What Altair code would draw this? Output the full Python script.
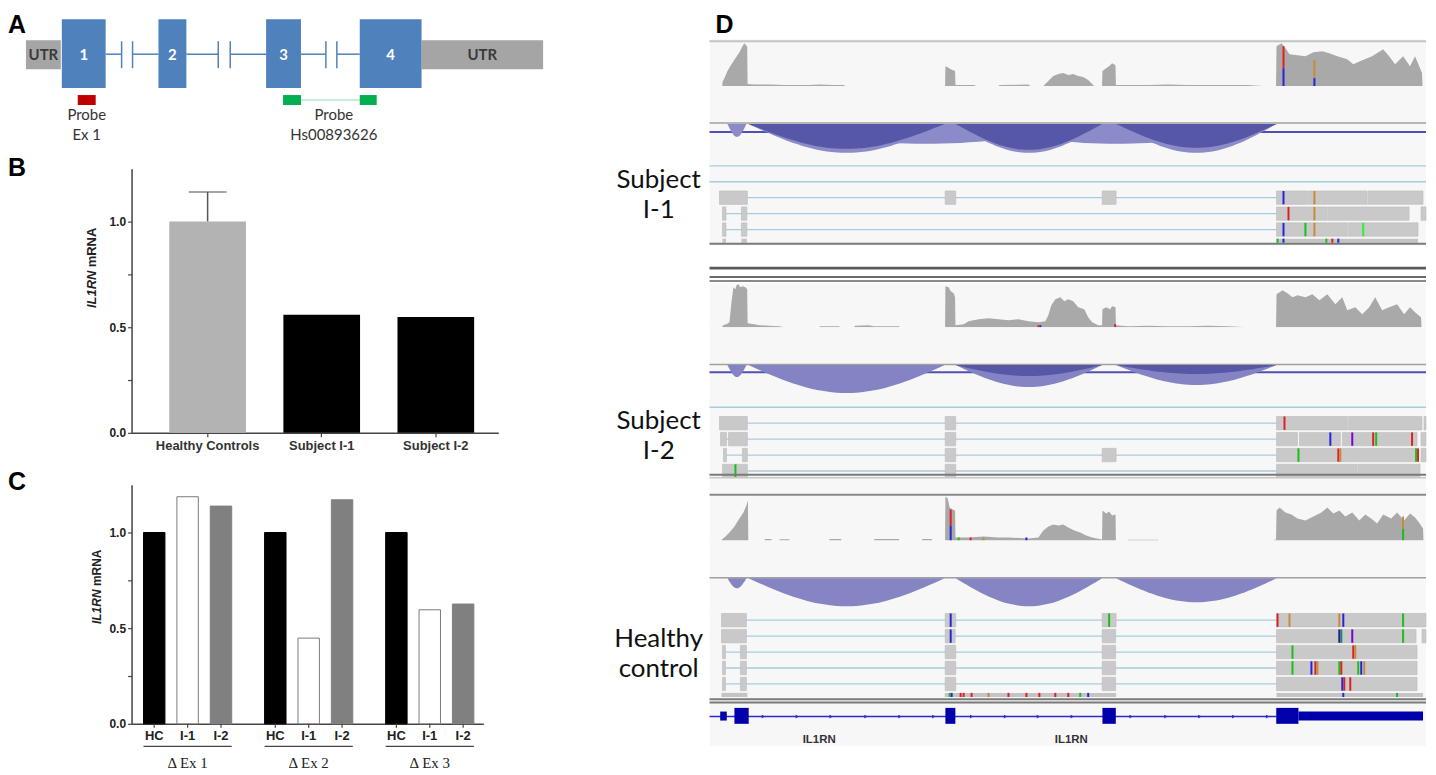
import math
import altair as alt
import pandas as pd

SANS = "Liberation Sans"
HUM = "Lato"

# ---------------- Panel A : IL1RN gene schematic (schematic units) ----------------
A_BOX_LABEL = ["UTR", "1", "2", "3", "4", "UTR"]
A_BOX_START = [1, 37, 134, 242, 336, 398]
A_BOX_END = [36, 81, 162, 277, 398, 520]
A_BOX_KIND = ["utr", "exon", "exon", "exon", "exon", "utr"]
A_INTRON_START = [81, 108, 162, 206, 277, 313]
A_INTRON_END = [97, 134, 194, 242, 302, 336]
A_BREAKS = [97, 108, 194, 206, 302, 313]
A_PROBE_START = [53, 259, 336]
A_PROBE_END = [71, 277, 353]
A_PROBE_COLOR = ["#c00000", "#00b050", "#00b050"]
A_LINK = [277, 336]
A_PROBE_TEXT_X = [62, 310]
A_PROBE_LINE1 = ["Probe", "Probe"]
A_PROBE_LINE2 = ["Ex 1", "Hs00893626"]

# ---------------- Panel B ----------------
B_GROUPS = ["Healthy Controls", "Subject I-1", "Subject I-2"]
B_VALUES = [1.0, 0.559, 0.548]
B_COLORS = ["#b3b3b3", "#000000", "#000000"]
B_HC_UPPER = 1.14

# ---------------- Panel C ----------------
C_GROUPS = ["\u0394 Ex 1", "\u0394 Ex 2", "\u0394 Ex 3"]
C_SAMPLES = ["HC", "I-1", "I-2"]
C_EX1 = [1.0, 1.187, 1.138]
C_EX2 = [1.0, 0.448, 1.171]
C_EX3 = [1.0, 0.596, 0.626]
C_FILL = ["#000000", "#ffffff", "#808080"]
C_STROKE = ["#000000", "#7a7a7a", "#808080"]

# ---------------- Panel D : IGV view (positions in 25-bp bins) ----------------
COV_I1 = [(12.9, 0), (13, 4), (15, 8), (18, 15), (22, 22), (26, 28), (30, 34), (33, 40), (35, 43), (36.5, 41),
          (37.8, 40), (38.2, 2), (45, 1.5), (60, 1.5), (75, 1), (90, 1), (100, 1), (110, 1.5), (125, 1), (135, 1), (136, 0),
          (236.4, 0), (236.7, 20), (239, 19), (242, 17), (246.4, 15), (246.8, 1), (255, 1), (265, 1), (268, 0),
          (290, 0), (291, 1), (320, 1.5), (322, 0),
          (335, 0), (340, 5), (345, 10), (350, 12), (355, 13), (360, 11), (365, 12), (370, 10), (375, 9), (380, 6), (384, 2), (386, 0),
          (393.9, 0), (394.3, 15), (398, 18), (401, 20), (404, 23), (407.4, 21), (407.8, 1), (420, 1), (440, 1), (460, 1.5),
          (480, 1), (500, 1), (520, 1), (540, 1), (555, 0),
          (568.5, 0), (569, 40), (574, 43), (578, 38), (582, 32), (590, 31), (598, 30), (606, 34), (615, 35), (622, 33),
          (630, 30), (640, 27), (646, 22), (655, 26), (665, 30), (676, 37), (682, 30), (688, 22), (696, 30), (703, 20),
          (708, 30), (715, 13), (715.5, 0)]
COV_I2 = [(12.9, 0), (13.5, 2), (17, 3), (20, 5), (22, 25), (24, 40), (26, 38), (27, 42), (29, 43), (31, 40), (33, 41),
          (36, 40), (37.8, 38), (38.2, 4), (45, 3), (50, 2), (60, 1.5), (70, 1), (75, 0),
          (110, 0), (111, 1), (130, 1), (131, 0), (145, 0), (146, 1.5), (160, 2), (165, 1), (190, 1), (191, 0),
          (236.4, 0), (236.7, 41), (240, 40), (242, 36), (245, 34), (246.4, 30), (246.8, 2), (255, 3), (260, 6), (270, 8),
          (280, 9), (290, 8), (300, 7), (310, 8), (320, 6), (330, 5), (337, 6), (340, 12), (343, 22), (347, 28), (352, 30),
          (356, 26), (360, 28), (365, 26), (370, 20), (376, 18), (380, 10), (384, 5), (390, 2), (393.9, 2),
          (394.3, 18), (398, 20), (402, 18), (404, 21), (407.4, 20), (407.8, 2), (420, 1), (440, 1.5), (460, 1), (480, 1),
          (500, 1.5), (520, 1), (540, 0),
          (568.5, 0), (569, 33), (575, 37), (580, 34), (585, 30), (590, 32), (598, 30), (605, 33), (612, 27), (620, 33),
          (628, 23), (635, 30), (640, 17), (648, 20), (655, 13), (662, 20), (668, 30), (675, 17), (682, 20), (690, 23),
          (697, 13), (703, 20), (708, 15), (714, 10), (714.5, 0)]
COV_HC = [(11.9, 0), (12.5, 1), (16, 4), (20, 8), (25, 14), (30, 22), (34, 28), (37, 35), (38.5, 40), (38.9, 0),
          (55, 0), (55.5, 1.5), (62, 1.5), (62.5, 0), (70, 0), (70.5, 1.2), (80, 1.2), (80.5, 0), (120, 0), (120.5, 1.5),
          (132, 1.5), (132.5, 0), (165, 0), (165.5, 1.5), (190, 1.5), (190.5, 0), (213, 0), (213.5, 1.5), (223, 1.5), (223.5, 0),
          (236.4, 0), (236.7, 44), (239, 42), (241, 33), (244, 31), (246.4, 30), (246.8, 3), (260, 3), (275, 4), (290, 3),
          (300, 3), (320, 2), (330, 3), (335, 10), (340, 14), (345, 16), (350, 15), (355, 16), (360, 13), (366, 10),
          (372, 8), (378, 5), (384, 3), (393.9, 1),
          (394.3, 30), (398, 27), (401, 29), (404, 25), (407.4, 26), (407.8, 0), (420, 0), (420.5, 0.8), (450, 0.8), (450.5, 0),
          (565, 0), (568.5, 1), (569, 30), (572, 33), (578, 28), (584, 26), (590, 22), (598, 20), (606, 24), (614, 28),
          (620, 33), (626, 27), (632, 30), (638, 24), (645, 28), (652, 20), (658, 26), (664, 22), (670, 17), (676, 26),
          (684, 22), (690, 28), (697, 20), (703, 27), (708, 23), (712, 18), (716, 12), (716.5, 0)]
# coverage mismatch bars: (bin, low, high, colour code)
COVMM_I1 = [(576, 0, 18, "b"), (576, 18, 40, "r"), (607, 0, 8, "b"), (607, 8, 26, "o")]
COVMM_I2 = [(330, 0, 2, "r"), (332, 0, 2, "b"), (407, 0, 3, "r")]
COVMM_HC = [(242, 0, 15, "b"), (242, 15, 31, "r"), (250, 0, 3, "g"), (262, 0, 3, "r"), (275, 0, 3, "o"),
            (318, 0, 3, "b"), (696, 0, 12, "g"), (696, 12, 24, "o")]

# splice junctions: (start bin, end bin, junction depth, shade)
SJ_I1 = [(18, 37, 13, "light"), (39, 394, 20, "light"), (247, 569, 20, "light"),
         (39, 236, 29, "light"), (247, 394, 29, "light"), (408, 569, 29, "light"),
         (39, 236, 25, "dark"), (247, 394, 26, "dark"), (408, 569, 24, "dark")]
SJ_I2 = [(18, 37, 12, "light"), (39, 236, 28, "light"), (247, 394, 22, "light"), (408, 569, 20, "light"),
         (247, 394, 11, "dark"), (408, 569, 9, "dark")]
SJ_HC = [(18, 37, 10, "light"), (39, 236, 28, "light"), (247, 394, 28, "light"), (408, 569, 24, "light")]

# reads: connecting lines (row, start, end), aligned blocks (row, start, end), mismatches (row, bin, colour)
LINES_I1 = [(0, 0, 719), (1, 0, 719), (2, 38, 569), (3, 16, 569), (4, 16, 569)]
BLOCKS_I1 = [(2, 10, 38), (2, 236.5, 247), (2, 394, 408), (2, 569, 600), (2, 601, 660), (2, 661, 716),
             (3, 13, 16.5), (3, 32, 37.5), (3, 569, 620), (3, 621, 702), (3, 714, 719),
             (4, 13, 16.5), (4, 32, 37.5), (4, 569, 640), (4, 641, 711)]
MM_I1 = [(2, 576, "b"), (2, 607, "o"), (3, 581, "r"), (3, 607, "o"), (4, 576, "b"), (4, 598, "g"), (4, 607, "o"), (4, 656, "lg")]
THIN_I1 = [(4.7, 13, 16.5), (4.7, 32, 37.5), (4.7, 569, 711)]
THINMM_I1 = [(4.7, 570, "g"), (4.7, 576, "b"), (4.7, 619, "g"), (4.7, 625, "r"), (4.7, 631, "b")]

LINES_I2 = [(0, 0, 719), (1, 38, 569), (2, 17, 569), (3, 17, 569), (4, 38, 569)]
BLOCKS_I2 = [(1, 10, 38), (1, 236.5, 247), (1, 569, 640), (1, 641, 715), (1, 717, 719),
             (2, 11, 17), (2, 19, 38), (2, 236.5, 247), (2, 569, 590), (2, 592, 633), (2, 635, 710), (2, 714, 719),
             (3, 14, 17), (3, 33, 38), (3, 236.5, 247), (3, 394, 408), (3, 569, 630), (3, 632, 710), (3, 714, 719),
             (4, 13, 38), (4, 236.5, 247), (4, 569, 650), (4, 651, 713)]
MM_I2 = [(1, 577, "r"), (2, 623, "b"), (2, 645, "p"), (2, 666, "r"), (2, 669, "g"), (2, 705, "r"),
         (3, 591, "g"), (3, 631, "r"), (3, 633, "o"), (3, 709, "g"), (3, 711, "r"), (4, 26, "g")]

LINES_HC = [(0, 37, 569), (1, 37, 569), (2, 16, 569), (3, 16, 569), (4, 16, 569)]
BLOCKS_HC = [(0, 12, 37), (0, 236.5, 247), (0, 394, 408), (0, 569, 719),
             (1, 12, 37), (1, 236.5, 246.5), (1, 394, 407.5), (1, 569, 709), (1, 715, 719),
             (2, 13, 16), (2, 31, 37), (2, 236.5, 247), (2, 394, 407.5), (2, 569, 710),
             (3, 13, 16), (3, 31, 37), (3, 236.5, 247), (3, 394, 407.5), (3, 569, 710),
             (4, 13, 16), (4, 31, 37), (4, 236.5, 247), (4, 394, 407.5), (4, 569, 710)]
MM_HC = [(0, 242, "b"), (0, 401, "g"), (0, 570, "r"), (0, 582, "o"), (0, 632, "o"), (0, 636, "b"), (0, 696, "g"),
         (1, 242, "b"), (1, 632, "n"), (1, 634, "t"), (1, 645, "p"), (1, 696, "g"),
         (2, 585, "g"), (2, 646, "r"), (2, 648, "o"),
         (3, 585, "g"), (3, 604, "b"), (3, 608, "r"), (3, 610, "o"), (3, 632, "g"), (3, 634, "r"), (3, 651, "g"),
         (3, 654, "b"), (3, 657, "o"),
         (4, 635, "b"), (4, 637, "r"), (4, 643, "r")]
THIN_HC = [(4.69, 12, 38), (4.69, 236, 408), (4.69, 569, 716)]
THINMM_HC = [(4.69, 241, "g"), (4.69, 243, "b"), (4.69, 252, "r"), (4.69, 255, "r"), (4.69, 263, "r"),
             (4.69, 280, "o"), (4.69, 300, "r"), (4.69, 318, "r"), (4.69, 331, "r"), (4.69, 347, "r"),
             (4.69, 360, "r"), (4.69, 372, "g"), (4.69, 380, "b"), (4.69, 636, "b"), (4.69, 690, "g")]

# gene model
GENE_LINE = [(0, 569)]
GENE_THICK = [(25, 39.3), (236.7, 246.7), (394.3, 407.7), (568.7, 591)]
GENE_THIN = [(10.7, 17.3), (591, 716)]
GENE_CHEVRONS = [54, 88, 122, 157, 191, 225, 263, 297, 330, 364, 423, 458, 492, 526, 560]
GENE_LABEL_POS = [110, 363]
GENE_LABEL = ["IL1RN", "IL1RN"]

MMCOL = {"r": "#e02020", "b": "#2424e0", "g": "#18c018", "lg": "#30f030", "o": "#c88a3a",
         "p": "#8000d0", "n": "#202080", "t": "#208080"}

BLUE = "#4f81bd"
BG = "#f7f7f7"
ONE = pd.DataFrame({"t": ["x"]})


def letter(ch, x, y):
    return alt.Chart(pd.DataFrame({"t": [ch]})).mark_text(
        font=SANS, fontSize=25, fontWeight="bold", align="left", baseline="top", color="#000"
    ).encode(text="t:N", x=alt.value(x), y=alt.value(y))


def anchor(x, y1, y2):
    # white (invisible) layout anchor
    return alt.Chart(ONE).mark_rule(color="#ffffff", strokeWidth=1).encode(
        x=alt.value(x), y=alt.value(y1), y2=alt.value(y2))


# ================= Panel A =================
def ax(f):
    return alt.X(f"{f}:Q", scale=alt.Scale(domain=[107, 520], nice=False, zero=False), axis=None)


boxes = pd.DataFrame({"label": A_BOX_LABEL, "s": A_BOX_START, "e": A_BOX_END, "kind": A_BOX_KIND})
boxes["mid"] = (boxes.s + boxes.e) / 2
boxes["tc"] = ["#3a3a3a" if k == "utr" else "#ffffff" for k in A_BOX_KIND]
introns = pd.DataFrame({"s": A_INTRON_START, "e": A_INTRON_END})
breaks = pd.DataFrame({"b": A_BREAKS})
probes = pd.DataFrame({"s": A_PROBE_START, "e": A_PROBE_END, "c": A_PROBE_COLOR})
link = pd.DataFrame({"s": [A_LINK[0]], "e": [A_LINK[1]]})
ptext = pd.DataFrame({"x": A_PROBE_TEXT_X, "l1": A_PROBE_LINE1, "l2": A_PROBE_LINE2})

a_layers = [
    anchor(428, -6.5, 40),
    alt.Chart(introns).mark_rule(color=BLUE, strokeWidth=1.5).encode(x=ax("s"), x2="e", y=alt.value(38)),
    alt.Chart(breaks).mark_rule(color=BLUE, strokeWidth=1.5).encode(x=ax("b"), y=alt.value(25), y2=alt.value(52)),
    alt.Chart(boxes).transform_filter("datum.kind == 'utr'").mark_rect(color="#a5a5a5").encode(
        x=ax("s"), x2="e", y=alt.value(24), y2=alt.value(53)),
    alt.Chart(boxes).transform_filter("datum.kind == 'exon'").mark_rect(color=BLUE).encode(
        x=ax("s"), x2="e", y=alt.value(3), y2=alt.value(72)),
    alt.Chart(boxes).mark_text(font=HUM, fontSize=15, fontWeight="bold", baseline="middle").encode(
        x=ax("mid"), y=alt.value(39), text="label:N", color=alt.Color("tc:N", scale=None)),
    alt.Chart(link).mark_rule(color="#8fdcaa", strokeWidth=1).encode(x=ax("s"), x2="e", y=alt.value(84)),
    alt.Chart(probes).mark_rect().encode(x=ax("s"), x2="e", y=alt.value(79), y2=alt.value(89),
                                         color=alt.Color("c:N", scale=None)),
    alt.Chart(ptext).mark_text(font=HUM, fontSize=15, baseline="middle", color="#333").encode(
        x=ax("x"), y=alt.value(99), text="l1:N"),
    alt.Chart(ptext).mark_text(font=HUM, fontSize=15, baseline="middle", color="#333").encode(
        x=ax("x"), y=alt.value(119), text="l2:N"),
    letter("A", -124, -3),
]
chartA = alt.layer(*a_layers).properties(width=413, height=101)


# ================= Panels B and C : axes =================
def y_axis():
    return alt.Axis(values=[0, 0.25, 0.5, 0.75, 1.0],
                    labelExpr="datum.value % 0.5 == 0 ? format(datum.value, '.1f') : ''",
                    title=None, grid=False, tickSize=4, tickWidth=1.2, tickColor="#444",
                    domainColor="#444", domainWidth=1.5, labelFont=SANS, labelFontSize=12,
                    labelFontWeight="bold", labelColor="#222", labelPadding=2, labelOverlap=False)


def ytitle(xp, y_il, y_m, size):
    base = dict(font=SANS, fontSize=size, fontWeight="bold", angle=270, align="center",
                baseline="middle", color="#222")
    return [
        alt.Chart(pd.DataFrame({"t": ["IL1RN"]})).mark_text(fontStyle="italic", **base).encode(
            text="t:N", x=alt.value(xp), y=alt.value(y_il)),
        alt.Chart(pd.DataFrame({"t": ["mRNA"]})).mark_text(**base).encode(
            text="t:N", x=alt.value(xp), y=alt.value(y_m)),
    ]


# ================= Panel B =================
bdf = pd.DataFrame({"group": B_GROUPS, "value": B_VALUES, "color": B_COLORS})
edf = pd.DataFrame({"group": [B_GROUPS[0]], "value": [B_VALUES[0]], "hi": [B_HC_UPPER]})
xB = alt.X("group:N", sort=B_GROUPS,
           scale=alt.Scale(paddingInner=0.328, paddingOuter=0.271, align=0.61),
           axis=alt.Axis(title=None, labelAngle=0, labelFont=SANS, labelFontSize=13, labelFontWeight="bold",
                         labelColor="#333", tickSize=4, tickColor="#444", tickWidth=1.2,
                         domainColor="#444", domainWidth=1.5, labelPadding=3))
yscB = alt.Scale(domain=[0, 1.25], nice=False, zero=True)
b_layers = [
    alt.Chart(edf).mark_rule(color="#555", strokeWidth=1.5).encode(
        x=xB, y=alt.Y("value:Q", scale=yscB, axis=y_axis()), y2="hi"),
    alt.Chart(edf).mark_tick(color="#555", size=38, thickness=1.5).encode(
        x=xB, y=alt.Y("hi:Q", scale=yscB, axis=y_axis())),
    alt.Chart(bdf).mark_bar().encode(
        x=xB, y=alt.Y("value:Q", scale=yscB, axis=y_axis()), color=alt.Color("color:N", scale=None)),
] + ytitle(-40, 121, 79, 13) + [letter("B", -124, -13)]
chartB = alt.layer(*b_layers).properties(width=368, height=265)

# ================= Panel C =================
crows = []
for g, vals in zip(C_GROUPS, [C_EX1, C_EX2, C_EX3]):
    for s, v in zip(C_SAMPLES, vals):
        crows.append({"group": g, "sample": s, "value": v})
cdf = pd.DataFrame(crows)
gdf = pd.DataFrame({"group": C_GROUPS})
xC = alt.X("group:N", sort=C_GROUPS,
           scale=alt.Scale(paddingInner=0.2716, paddingOuter=0.0884, align=0.558),
           axis=alt.Axis(title=None, labels=False, ticks=False, domainColor="#444", domainWidth=1.5))
xoC = alt.XOffset("sample:N", sort=C_SAMPLES, scale=alt.Scale(paddingInner=0.358, paddingOuter=0))
yscC = alt.Scale(domain=[0, 1.25], nice=False, zero=True)
c_layers = [
    alt.Chart(cdf).mark_bar(strokeWidth=1).encode(
        x=xC, xOffset=xoC, y=alt.Y("value:Q", scale=yscC, axis=y_axis()),
        fill=alt.Fill("sample:N", scale=alt.Scale(domain=C_SAMPLES, range=C_FILL), legend=None),
        stroke=alt.Stroke("sample:N", scale=alt.Scale(domain=C_SAMPLES, range=C_STROKE), legend=None)),
    alt.Chart(cdf).mark_rule(color="#444", strokeWidth=1.2).encode(
        x=xC, xOffset=xoC, y=alt.value(240), y2=alt.value(244)),
    alt.Chart(cdf).mark_text(font=SANS, fontSize=13, fontWeight="bold", color="#222", baseline="middle").encode(
        x=xC, xOffset=xoC, y=alt.value(252), text="sample:N"),
    alt.Chart(gdf).mark_rect(color="#444").encode(x=xC, y=alt.value(262), y2=alt.value(263.2)),
    alt.Chart(gdf).mark_text(font="Liberation Serif", fontSize=15, color="#222", baseline="middle").encode(
        x=xC, y=alt.value(279), text="group:N"),
] + ytitle(-35, 122.5, 83.5, 12) + [letter("C", -124, -15)]
chartC = alt.layer(*c_layers).properties(width=353, height=240)

left = alt.vconcat(chartA, chartB, chartC, spacing=52, bounds="flush")

# ================= Panel D =================
WD = 719


def dx(f):
    return alt.X(f"{f}:Q", scale=alt.Scale(domain=[0, WD], nice=False, zero=False), axis=None)


def hrule(y, color, width):
    return alt.Chart(ONE).mark_rule(color=color, strokeWidth=width).encode(
        x=alt.value(0), x2=alt.value(WD), y=alt.value(y))


def coverage(prof, mm, h, top_line=None):
    df = pd.DataFrame(prof, columns=["pos", "dep"])
    ys = alt.Scale(domain=[0, h], nice=False, zero=False)
    m = pd.DataFrame(mm, columns=["pos", "lo", "hi", "c"])
    m["c"] = m.c.map(MMCOL)
    layers = []
    if top_line is not None:
        layers.append(hrule(top_line[0], top_line[1], top_line[2]))
    layers += [
        alt.Chart(df).transform_calculate(z="0").mark_area(color="#a9a9a9", interpolate="linear").encode(
            x=dx("pos"), y=alt.Y("dep:Q", scale=ys, axis=None), y2=alt.Y2("z:Q")),
        alt.Chart(m).mark_rule(strokeWidth=2).encode(
            x=dx("pos"), y=alt.Y("lo:Q", scale=ys, axis=None), y2="hi", color=alt.Color("c:N", scale=None)),
    ]
    return alt.layer(*layers).properties(width=WD, height=h, view=alt.ViewBackground(fill=BG))


def sashimi(junctions, h, base, gray_y, blue_y, light, dark):
    rows = []
    for j, (s, e, d, tone) in enumerate(junctions):
        for k in range(41):
            t = k / 40
            rows.append((j, s + (e - s) * t, d * math.sin(math.pi * t), tone))
    df = pd.DataFrame(rows, columns=["j", "pos", "d", "tone"])
    ys = alt.Scale(domain=[-base, h - base], reverse=True, nice=False, zero=False)
    layers = [hrule(gray_y, "#a0a0a0", 1.5)]
    if blue_y is not None:
        layers.append(hrule(blue_y, "#5050b4", 2))
    for tone, col in (("light", light), ("dark", dark)):
        layers.append(alt.Chart(df).transform_filter(f"datum.tone == '{tone}'").transform_calculate(
            z="0").mark_area(color=col, interpolate="linear").encode(
            x=dx("pos"), y=alt.Y("d:Q", scale=ys, axis=None), y2=alt.Y2("z:Q"), detail="j:N"))
    return alt.layer(*layers).properties(width=WD, height=h, view=alt.ViewBackground(fill=BG))


def reads(h, row0, lines, blocks, mm, thin, thinmm, bottoms, labels):
    pitch = 16.0
    ys = alt.Scale(domain=[-row0 / pitch, (h - row0) / pitch], reverse=True, nice=False, zero=False)

    def Y(f):
        return alt.Y(f"{f}:Q", scale=ys, axis=None)

    ln = pd.DataFrame(lines, columns=["row", "s", "e"])
    bl = pd.DataFrame(blocks, columns=["row", "s", "e"])
    m = pd.DataFrame(mm, columns=["row", "pos", "c"])
    m["c"] = m.c.map(MMCOL)
    layers = [
        alt.Chart(ln).mark_rule(color="#a6cddd", strokeWidth=1.3).encode(x=dx("s"), x2="e", y=Y("row")),
        alt.Chart(bl).transform_calculate(y1="datum.row - 0.42", y2="datum.row + 0.42").mark_rect(
            color="#c9c9c9", stroke="#bcbcbc", strokeWidth=0.6).encode(x=dx("s"), x2="e", y=Y("y1"), y2="y2"),
        alt.Chart(m).transform_calculate(y1="datum.row - 0.42", y2="datum.row + 0.42").mark_rule(
            strokeWidth=2).encode(x=dx("pos"), y=Y("y1"), y2="y2", color=alt.Color("c:N", scale=None)),
    ]
    if thin:
        tb = pd.DataFrame(thin, columns=["row", "s", "e"])
        layers.append(alt.Chart(tb).transform_calculate(y1="datum.row - 0.13", y2="datum.row + 0.13").mark_rect(
            color="#c4c4c4").encode(x=dx("s"), x2="e", y=Y("y1"), y2="y2"))
    if thinmm:
        tm = pd.DataFrame(thinmm, columns=["row", "pos", "c"])
        tm["c"] = tm.c.map(MMCOL)
        layers.append(alt.Chart(tm).transform_calculate(y1="datum.row - 0.13", y2="datum.row + 0.13").mark_rule(
            strokeWidth=2).encode(x=dx("pos"), y=Y("y1"), y2="y2", color=alt.Color("c:N", scale=None)))
    for (y, c, w) in bottoms:
        layers.append(hrule(y, c, w))
    for (txt, y) in labels:
        layers.append(alt.Chart(pd.DataFrame({"t": [txt]})).mark_text(
            font=HUM, fontSize=26, align="center", baseline="alphabetic", color="#111").encode(
            text="t:N", x=alt.value(-51), y=alt.value(y)))
    return alt.layer(*layers).properties(width=WD, height=h, view=alt.ViewBackground(fill=BG))


header = alt.layer(anchor(-120, -6.5, 20), letter("D", 6, -3)).properties(width=WD, height=23)
cov1 = coverage(COV_I1, COVMM_I1, 47, top_line=(2, "#c4c4c4", 2))
sash1 = sashimi(SJ_I1, 75, 38, 37, 46, "#8b8bc9", "#5757a8")
reads1 = reads(85, 5, LINES_I1, BLOCKS_I1, MM_I1, THIN_I1, THINMM_I1, [(83.3, "#7a7a7a", 2)],
               [("Subject", 27), ("I-1", 57)])
sep1 = alt.layer(hrule(22.7, "#5a5a5a", 3), hrule(31.7, "#6a6a6a", 2), hrule(35.7, "#8a8a8a", 2)).properties(
    width=WD, height=38)
cov2 = coverage(COV_I2, COVMM_I2, 44)
sash2 = sashimi(SJ_I2, 77, 38, 37.3, 45.3, "#8484c4", "#5757a8")
reads2 = reads(90, 3.3, LINES_I2, BLOCKS_I2, MM_I2, None, None, [(71, "#7a7a7a", 2), (74, "#c8c8c8", 1.5)],
               [("Subject", 25), ("I-2", 55)])
cov3 = coverage(COV_HC, COVMM_HC, 47, top_line=(1, "#8a8a8a", 2))
sash3 = sashimi(SJ_HC, 70, 38, 37.3, None, "#8585c4", "#8585c4")
reads3 = reads(89, 10, LINES_HC, BLOCKS_HC, MM_HC, THIN_HC, THINMM_HC, [],
               [("Healthy", 37), ("control", 67)])

gl = pd.DataFrame(GENE_LINE, columns=["s", "e"])
gt = pd.DataFrame(GENE_THICK, columns=["s", "e"])
gn = pd.DataFrame(GENE_THIN, columns=["s", "e"])
gc = pd.DataFrame({"pos": GENE_CHEVRONS})
glab = pd.DataFrame({"pos": GENE_LABEL_POS, "t": GENE_LABEL})
GCOL = "#0000aa"
gene = alt.layer(
    hrule(0.3, "#7a7a7a", 2),
    hrule(3.5, "#7a7a7a", 2),
    alt.Chart(gl).mark_rule(color="#2a2ad0", strokeWidth=1.5).encode(x=dx("s"), x2="e", y=alt.value(17.7)),
    alt.Chart(gc).mark_point(shape="triangle-right", filled=True, size=14, color="#2a2ad0", opacity=1).encode(
        x=dx("pos"), y=alt.value(17.7)),
    alt.Chart(gt).mark_rect(color=GCOL).encode(x=dx("s"), x2="e", y=alt.value(9), y2=alt.value(25)),
    alt.Chart(gn).mark_rect(color=GCOL).encode(x=dx("s"), x2="e", y=alt.value(12.7), y2=alt.value(21.7)),
    alt.Chart(glab).mark_text(font=SANS, fontSize=11.5, fontWeight="bold", color="#333", baseline="middle").encode(
        x=dx("pos"), y=alt.value(41.7), text="t:N"),
).properties(width=WD, height=47, view=alt.ViewBackground(fill=BG))

dcol = alt.vconcat(header, cov1, sash1, reads1, sep1, cov2, sash2, reads2, cov3, sash3, reads3, gene,
                   spacing=0, bounds="flush")

chart = alt.hconcat(left, dcol, spacing=30).properties(padding=0).configure_view(strokeWidth=0)

chart.save("out.html", embed_options={"renderer": "svg", "actions": False})
